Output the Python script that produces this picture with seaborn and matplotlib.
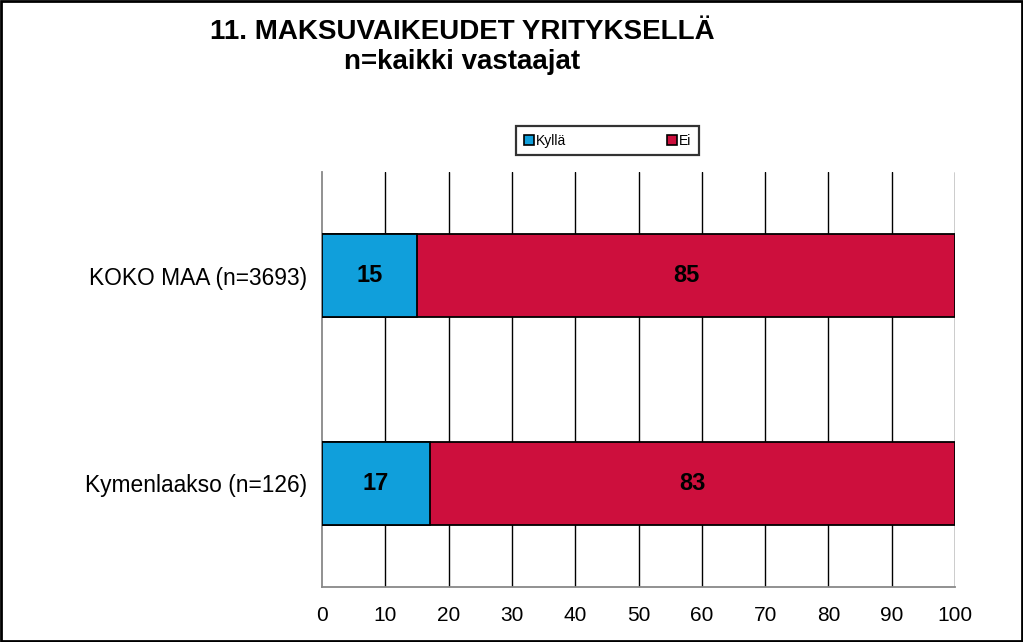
import matplotlib
matplotlib.use("Agg")
import matplotlib.pyplot as plt
import pandas as pd
import seaborn as sns
from matplotlib.patches import Rectangle

categories = ["KOKO MAA (n=3693)", "Kymenlaakso (n=126)"]
kylla = [15, 17]
ei = [85, 83]
series_names = ["Kyllä", "Ei"]
colors = ["#109FDB", "#CD0F3D"]
x_ticks = list(range(0, 101, 10))

sns.set_theme(style="white")
plt.rcParams["font.family"] = ["Liberation Sans", "DejaVu Sans"]
plt.rcParams["text.color"] = "black"
plt.rcParams["xtick.color"] = "black"
plt.rcParams["ytick.color"] = "black"

df = pd.DataFrame({"cat": categories, "kylla": kylla, "ei": ei})
df["total"] = df["kylla"] + df["ei"]

fig = plt.figure(figsize=(10.23, 6.42), dpi=100)
ax = fig.add_axes([0.3148, 0.0857, 0.6187, 0.6463])

# stacked: draw total in red first, then blue segment on top
sns.barplot(data=df, y="cat", x="total", color=colors[1], saturation=1,
            width=0.4, edgecolor="black", linewidth=1.3, orient="h", ax=ax,
            zorder=3)
sns.barplot(data=df, y="cat", x="kylla", color=colors[0], saturation=1,
            width=0.4, edgecolor="black", linewidth=1.3, orient="h", ax=ax,
            zorder=4)

# value labels centred in each segment
for i in range(len(categories)):
    ax.text(kylla[i] / 2, i, str(kylla[i]), ha="center", va="center",
            fontsize=17, fontweight="bold", color="black", zorder=5)
    ax.text(kylla[i] + ei[i] / 2, i, str(ei[i]), ha="center", va="center",
            fontsize=17, fontweight="bold", color="black", zorder=5)

ax.set_xlim(0, 100)
ax.set_ylim(len(categories) - 0.5, -0.5)
ax.set_xticks(x_ticks)
ax.set_xticklabels([str(t) for t in x_ticks], fontsize=15)
ax.set_yticks(range(len(categories)))
ax.set_yticklabels(categories, fontsize=16.4)
ax.set_yticks([-0.5, 0.5, 1.5], minor=True)
ax.tick_params(axis="y", which="major", length=0, pad=11)
ax.tick_params(axis="y", which="minor", length=6, color="#888888", width=1)
ax.tick_params(axis="x", which="major", length=6, color="#888888", width=1,
               direction="out", pad=8)
ax.set_xlabel("")
ax.set_ylabel("")

ax.grid(False)
for t in x_ticks[1:]:
    ax.axvline(t, color="black", linewidth=1, zorder=1)

for side in ["top", "right"]:
    ax.spines[side].set_visible(False)
for side in ["left", "bottom"]:
    ax.spines[side].set_color("#888888")
    ax.spines[side].set_linewidth(1.3)

# legend in a framed box
handles = [Rectangle((0, 0), 1, 1, facecolor=c, edgecolor="black", linewidth=1.2)
           for c in colors]
leg = fig.legend(handles, series_names, loc="center",
                 bbox_to_anchor=(0.594, 0.781), ncol=2, fontsize=10,
                 frameon=True, fancybox=False, handlelength=0.75,
                 handleheight=0.75, handletextpad=0.15, columnspacing=7.2,
                 borderpad=0.55, borderaxespad=0, edgecolor="black")
leg.get_frame().set_linewidth(1.6)

fig.text(0.4516, 0.9393, "11. MAKSUVAIKEUDET YRITYKSELLÄ", ha="center",
         va="baseline", fontsize=20, fontweight="bold")
fig.text(0.4516, 0.8925, "n=kaikki vastaajat", ha="center", va="baseline",
         fontsize=20, fontweight="bold")

# border around the whole picture
fig.patches.append(Rectangle((0.001, 0.002), 0.998, 0.996,
                             transform=fig.transFigure, fill=False,
                             edgecolor="black", linewidth=2))

fig.savefig("out.png", dpi=100)
